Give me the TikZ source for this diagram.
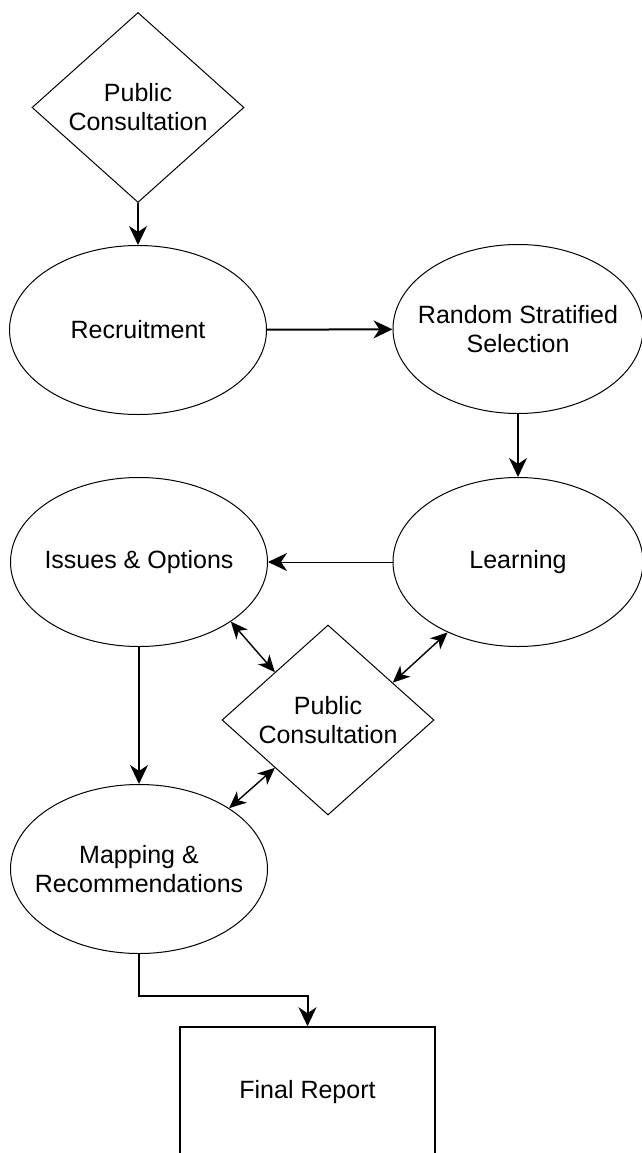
\documentclass[tikz,border=0pt]{standalone}
\usepackage{fontspec}
\setmainfont{Liberation Sans}
\usetikzlibrary{shapes.geometric,arrows.meta}
\begin{document}
\begin{tikzpicture}[x=1pt,y=-1pt,
  lbl/.style={font=\fontsize{25}{29}\selectfont,align=center},
  ell/.style={lbl,ellipse,draw,line width=1pt,minimum width=257pt,minimum height=169pt,inner sep=-20pt},
  dia/.style={lbl,diamond,draw,line width=1pt,minimum width=212pt,minimum height=190pt,inner sep=0pt,shape aspect=1.1},
  reportbox/.style={lbl,rectangle,draw,line width=1.5pt,minimum width=255pt,minimum height=130pt},
  mainarrow/.style={line width=2pt,-{Stealth[length=19pt,width=18pt,inset=6pt]}},
  thinarrow/.style={line width=1pt,-{Stealth[length=19pt,width=18pt,inset=6pt]}},
  bothways/.style={line width=1.4pt,{Stealth[length=17pt,width=15pt,inset=5pt]}-{Stealth[length=17pt,width=15pt,inset=5pt]}}
]
\useasboundingbox (0,0) rectangle (642,1153);
\clip (0,0) rectangle (642,1153);
\node[dia] (pc1) at (138,107.5) {Public\\Consultation};
\node[ell] (rec) at (138,330) {Recruitment};
\node[ell,minimum width=250pt] (rss) at (518,329) {Random Stratified\\Selection};
\node[ell,minimum width=250pt] (lrn) at (518,562) {Learning};
\node[ell] (iss) at (139,562) {Issues \& Options};
\node[dia] (pc2) at (328,720) {Public\\Consultation};
\node[ell] (map) at (139,869) {Mapping \&\\Recommendations};
\node[reportbox] (fin) at (307.5,1092) {Final Report};
\draw[mainarrow] (pc1) -- (rec);
\draw[mainarrow] (rec) -- (rss);
\draw[mainarrow] (rss) -- (lrn);
\draw[thinarrow] (lrn) -- (iss);
\draw[mainarrow] (iss) -- (map);
\draw[mainarrow] (map.south) -- ++(0,42) -| (fin.north);
\draw[bothways] (iss.-33) -- (pc2.138);
\draw[bothways] (lrn.-135) -- (pc2.30);
\draw[bothways] (pc2.-138) -- (map.34);
\end{tikzpicture}
\end{document}
